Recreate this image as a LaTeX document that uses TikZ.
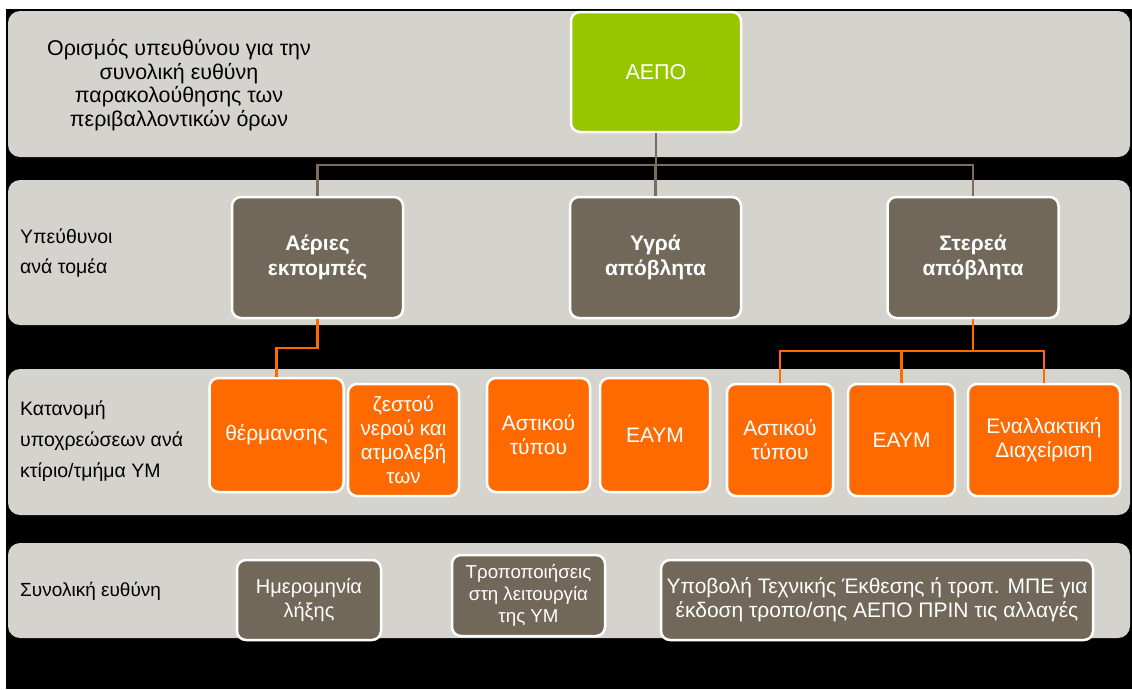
\documentclass[tikz,border=0pt]{standalone}
\usepackage{fontspec}
\setmainfont{Liberation Sans}
\definecolor{bandgrey}{HTML}{D5D3CE}
\definecolor{brownbox}{HTML}{72685A}
\definecolor{greenbox}{HTML}{95C600}
\definecolor{orangebox}{HTML}{FF6A00}
\definecolor{linegrey}{HTML}{776D60}
\tikzset{
  band/.style={fill=bandgrey, rounded corners=12pt},
  box/.style={draw=white, line width=2.5pt, rounded corners=9pt, text=white,
    align=center, inner sep=0pt, anchor=center},
  topbox/.style={box, fill=greenbox, font=\fontsize{21.5}{25}\selectfont},
  sectorbox/.style={box, fill=brownbox, font=\fontsize{21}{25}\selectfont\bfseries},
  dutybox/.style={box, fill=orangebox, font=\fontsize{21}{24}\selectfont},
  notebox/.style={box, fill=brownbox, font=\fontsize{20}{24}\selectfont},
  rowlabel/.style={align=left, anchor=west, inner sep=0pt, text=black},
  greyline/.style={draw=linegrey, line width=2.5pt},
  orangeline/.style={draw=orangebox, line width=2.5pt},
}
\begin{document}
\begin{tikzpicture}[x=1pt, y=-1pt]
  \useasboundingbox (0,0) rectangle (1132,689);
  % page background
  \fill[white] (0,0) rectangle (1132,689);
  \fill[black] (6,9) rectangle (1132,689);

  % horizontal bands
  \fill[band] (8,11) rectangle (1130,157);
  \fill[band] (8,180) rectangle (1130,325);
  \fill[band] (8,369) rectangle (1130,515);
  \fill[band] (8,543) rectangle (1130,638);

  % row labels
  \node[align=center, inner sep=0pt, font=\fontsize{21.4}{23.5}\selectfont] (lbl1) at (179,85)
    {Ορισμός υπευθύνου για την\\συνολική ευθύνη\\παρακολούθησης των\\περιβαλλοντικών όρων};
  \node[rowlabel, font=\fontsize{19.5}{30}\selectfont] (lbl2) at (20,253)
    {Υπεύθυνοι\\ανά τομέα};
  \node[rowlabel, font=\fontsize{19.5}{31}\selectfont] (lbl3) at (20,441)
    {Κατανομή\\υποχρεώσεων ανά\\κτίριο/τμήμα ΥΜ};
  \node[rowlabel, font=\fontsize{19}{24}\selectfont] (lbl4) at (20,591)
    {Συνολική ευθύνη};

  % top node
  \node[topbox, minimum width=170pt, minimum height=120pt] (aepo) at (656,72) {ΑΕΠΟ};

  % sectors
  \node[sectorbox, minimum width=171pt, minimum height=121pt] (air) at (317.5,257.5) {Αέριες\\εκπομπές};
  \node[sectorbox, minimum width=171pt, minimum height=121pt] (liquid) at (655.5,257.5) {Υγρά\\απόβλητα};
  \node[sectorbox, minimum width=171pt, minimum height=121pt] (solid) at (973,257.5) {Στερεά\\απόβλητα};

  % duties per building
  \node[dutybox, minimum width=134pt, minimum height=114pt] (heat) at (276.5,435) {θέρμανσης};
  \node[dutybox, minimum width=111pt, minimum height=112pt, font=\fontsize{20.5}{24}\selectfont] (water) at (403.5,440) {ζεστού\\νερού και\\ατμολεβή\\των};
  \node[dutybox, minimum width=103pt, minimum height=114pt] (urbanA) at (538.5,435) {Αστικού\\τύπου};
  \node[dutybox, minimum width=110pt, minimum height=114pt] (eaymA) at (655,435) {ΕΑΥΜ};
  \node[dutybox, minimum width=106pt, minimum height=112pt] (urbanB) at (780,440) {Αστικού\\τύπου};
  \node[dutybox, minimum width=107pt, minimum height=112pt] (eaymB) at (901.5,440) {ΕΑΥΜ};
  \node[dutybox, minimum width=152pt, minimum height=112pt] (alt) at (1044,440) {Εναλλακτική\\Διαχείριση};

  % overall responsibility
  \node[notebox, minimum width=144pt, minimum height=80pt] (expiry) at (309,600) {Ημερομηνία\\λήξης};
  \node[notebox, minimum width=153pt, minimum height=81pt, font=\fontsize{18.7}{22}\selectfont] (mods) at (528.5,595.5) {Τροποποιήσεις\\στη λειτουργία\\της ΥΜ};
  \node[notebox, minimum width=432pt, minimum height=80pt, font=\fontsize{21}{24}\selectfont] (submit) at (877,600) {Υποβολή Τεχνικής Έκθεσης ή τροπ. ΜΠΕ για\\έκδοση τροπο/σης ΑΕΠΟ ΠΡΙΝ τις αλλαγές};

  % grey connectors from the top node
  \coordinate (bus) at (0,165);
  \draw[greyline] (aepo.south) -- (aepo.south |- bus);
  \draw[greyline] (air.north) -- (air.north |- bus) -- (solid.north |- bus) -- (solid.north);
  \draw[greyline] (liquid.north) -- (liquid.north |- bus);

  % orange connectors
  \coordinate (airbus) at (0,348);
  \draw[orangeline] (air.south) -- (air.south |- airbus) -| (heat.north);
  \coordinate (solidbus) at (0,351);
  \draw[orangeline] (solid.south) -- (solid.south |- solidbus);
  \draw[orangeline] (urbanB.north) -- (urbanB.north |- solidbus) -- (alt.north |- solidbus) -- (alt.north);
  \draw[orangeline] (eaymB.north) -- (eaymB.north |- solidbus);
\end{tikzpicture}
\end{document}
